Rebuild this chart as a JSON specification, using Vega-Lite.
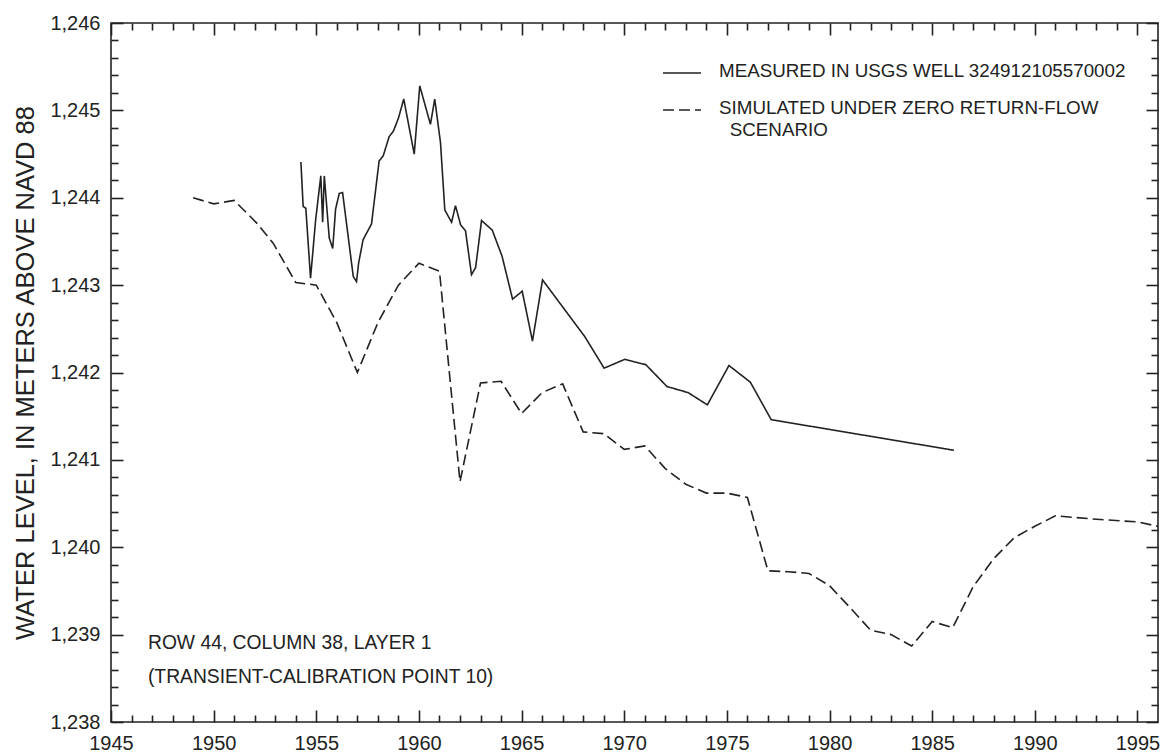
{
  "$schema": "https://vega.github.io/schema/vega-lite/v6.json",
  "width": 1047,
  "height": 699,
  "autosize": {"type": "none"},
  "padding": {"left": 111, "top": 23, "right": 8, "bottom": 30},
  "background": "white",
  "config": {
    "view": {"stroke": "#222", "strokeWidth": 1.6},
    "font": "Liberation Sans",
    "axis": {
      "grid": false,
      "domain": false,
      "labelFont": "Liberation Sans",
      "labelFontSize": 20,
      "labelColor": "#222",
      "tickColor": "#222",
      "tickWidth": 1.6,
      "titleFont": "Liberation Sans",
      "titleFontSize": 25.5,
      "titleFontWeight": "normal",
      "titleColor": "#222"
    }
  },
  "data": {
    "values": [
      {"series": "MEASURED IN USGS WELL 324912105570002", "year": 1954.25, "level": 1244.41},
      {"series": "MEASURED IN USGS WELL 324912105570002", "year": 1954.36, "level": 1243.90},
      {"series": "MEASURED IN USGS WELL 324912105570002", "year": 1954.49, "level": 1243.88},
      {"series": "MEASURED IN USGS WELL 324912105570002", "year": 1954.72, "level": 1243.08},
      {"series": "MEASURED IN USGS WELL 324912105570002", "year": 1954.97, "level": 1243.75},
      {"series": "MEASURED IN USGS WELL 324912105570002", "year": 1955.22, "level": 1244.25},
      {"series": "MEASURED IN USGS WELL 324912105570002", "year": 1955.31, "level": 1243.72},
      {"series": "MEASURED IN USGS WELL 324912105570002", "year": 1955.39, "level": 1244.25},
      {"series": "MEASURED IN USGS WELL 324912105570002", "year": 1955.63, "level": 1243.54},
      {"series": "MEASURED IN USGS WELL 324912105570002", "year": 1955.80, "level": 1243.42},
      {"series": "MEASURED IN USGS WELL 324912105570002", "year": 1955.94, "level": 1243.87},
      {"series": "MEASURED IN USGS WELL 324912105570002", "year": 1956.12, "level": 1244.05},
      {"series": "MEASURED IN USGS WELL 324912105570002", "year": 1956.28, "level": 1244.06},
      {"series": "MEASURED IN USGS WELL 324912105570002", "year": 1956.80, "level": 1243.10},
      {"series": "MEASURED IN USGS WELL 324912105570002", "year": 1956.96, "level": 1243.04},
      {"series": "MEASURED IN USGS WELL 324912105570002", "year": 1957.06, "level": 1243.25},
      {"series": "MEASURED IN USGS WELL 324912105570002", "year": 1957.28, "level": 1243.52},
      {"series": "MEASURED IN USGS WELL 324912105570002", "year": 1957.69, "level": 1243.70},
      {"series": "MEASURED IN USGS WELL 324912105570002", "year": 1958.06, "level": 1244.42},
      {"series": "MEASURED IN USGS WELL 324912105570002", "year": 1958.26, "level": 1244.48},
      {"series": "MEASURED IN USGS WELL 324912105570002", "year": 1958.55, "level": 1244.70},
      {"series": "MEASURED IN USGS WELL 324912105570002", "year": 1958.75, "level": 1244.76},
      {"series": "MEASURED IN USGS WELL 324912105570002", "year": 1959.00, "level": 1244.91},
      {"series": "MEASURED IN USGS WELL 324912105570002", "year": 1959.26, "level": 1245.13},
      {"series": "MEASURED IN USGS WELL 324912105570002", "year": 1959.77, "level": 1244.50},
      {"series": "MEASURED IN USGS WELL 324912105570002", "year": 1960.04, "level": 1245.28},
      {"series": "MEASURED IN USGS WELL 324912105570002", "year": 1960.56, "level": 1244.84},
      {"series": "MEASURED IN USGS WELL 324912105570002", "year": 1960.77, "level": 1245.13},
      {"series": "MEASURED IN USGS WELL 324912105570002", "year": 1961.05, "level": 1244.63},
      {"series": "MEASURED IN USGS WELL 324912105570002", "year": 1961.26, "level": 1243.86},
      {"series": "MEASURED IN USGS WELL 324912105570002", "year": 1961.59, "level": 1243.72},
      {"series": "MEASURED IN USGS WELL 324912105570002", "year": 1961.78, "level": 1243.91},
      {"series": "MEASURED IN USGS WELL 324912105570002", "year": 1962.03, "level": 1243.69},
      {"series": "MEASURED IN USGS WELL 324912105570002", "year": 1962.27, "level": 1243.62},
      {"series": "MEASURED IN USGS WELL 324912105570002", "year": 1962.56, "level": 1243.12},
      {"series": "MEASURED IN USGS WELL 324912105570002", "year": 1962.76, "level": 1243.20},
      {"series": "MEASURED IN USGS WELL 324912105570002", "year": 1963.05, "level": 1243.74},
      {"series": "MEASURED IN USGS WELL 324912105570002", "year": 1963.57, "level": 1243.63},
      {"series": "MEASURED IN USGS WELL 324912105570002", "year": 1964.05, "level": 1243.33},
      {"series": "MEASURED IN USGS WELL 324912105570002", "year": 1964.56, "level": 1242.84},
      {"series": "MEASURED IN USGS WELL 324912105570002", "year": 1965.03, "level": 1242.93},
      {"series": "MEASURED IN USGS WELL 324912105570002", "year": 1965.53, "level": 1242.36},
      {"series": "MEASURED IN USGS WELL 324912105570002", "year": 1966.02, "level": 1243.06},
      {"series": "MEASURED IN USGS WELL 324912105570002", "year": 1968.08, "level": 1242.41},
      {"series": "MEASURED IN USGS WELL 324912105570002", "year": 1969.02, "level": 1242.05},
      {"series": "MEASURED IN USGS WELL 324912105570002", "year": 1970.02, "level": 1242.15},
      {"series": "MEASURED IN USGS WELL 324912105570002", "year": 1971.05, "level": 1242.09},
      {"series": "MEASURED IN USGS WELL 324912105570002", "year": 1972.08, "level": 1241.84},
      {"series": "MEASURED IN USGS WELL 324912105570002", "year": 1973.11, "level": 1241.77},
      {"series": "MEASURED IN USGS WELL 324912105570002", "year": 1974.05, "level": 1241.63},
      {"series": "MEASURED IN USGS WELL 324912105570002", "year": 1975.10, "level": 1242.08},
      {"series": "MEASURED IN USGS WELL 324912105570002", "year": 1976.14, "level": 1241.89},
      {"series": "MEASURED IN USGS WELL 324912105570002", "year": 1977.16, "level": 1241.46},
      {"series": "MEASURED IN USGS WELL 324912105570002", "year": 1986.06, "level": 1241.11},
      {"series": "SIMULATED UNDER ZERO RETURN-FLOW SCENARIO", "year": 1949.0, "level": 1244.00},
      {"series": "SIMULATED UNDER ZERO RETURN-FLOW SCENARIO", "year": 1950.0, "level": 1243.93},
      {"series": "SIMULATED UNDER ZERO RETURN-FLOW SCENARIO", "year": 1951.0, "level": 1243.97},
      {"series": "SIMULATED UNDER ZERO RETURN-FLOW SCENARIO", "year": 1952.1, "level": 1243.71},
      {"series": "SIMULATED UNDER ZERO RETURN-FLOW SCENARIO", "year": 1952.9, "level": 1243.48},
      {"series": "SIMULATED UNDER ZERO RETURN-FLOW SCENARIO", "year": 1954.0, "level": 1243.03},
      {"series": "SIMULATED UNDER ZERO RETURN-FLOW SCENARIO", "year": 1955.0, "level": 1243.00},
      {"series": "SIMULATED UNDER ZERO RETURN-FLOW SCENARIO", "year": 1956.0, "level": 1242.57},
      {"series": "SIMULATED UNDER ZERO RETURN-FLOW SCENARIO", "year": 1957.0, "level": 1242.00},
      {"series": "SIMULATED UNDER ZERO RETURN-FLOW SCENARIO", "year": 1958.0, "level": 1242.57},
      {"series": "SIMULATED UNDER ZERO RETURN-FLOW SCENARIO", "year": 1959.0, "level": 1243.00},
      {"series": "SIMULATED UNDER ZERO RETURN-FLOW SCENARIO", "year": 1960.0, "level": 1243.25},
      {"series": "SIMULATED UNDER ZERO RETURN-FLOW SCENARIO", "year": 1961.0, "level": 1243.16},
      {"series": "SIMULATED UNDER ZERO RETURN-FLOW SCENARIO", "year": 1962.0, "level": 1240.75},
      {"series": "SIMULATED UNDER ZERO RETURN-FLOW SCENARIO", "year": 1963.0, "level": 1241.88},
      {"series": "SIMULATED UNDER ZERO RETURN-FLOW SCENARIO", "year": 1964.0, "level": 1241.90},
      {"series": "SIMULATED UNDER ZERO RETURN-FLOW SCENARIO", "year": 1965.0, "level": 1241.53},
      {"series": "SIMULATED UNDER ZERO RETURN-FLOW SCENARIO", "year": 1966.0, "level": 1241.77},
      {"series": "SIMULATED UNDER ZERO RETURN-FLOW SCENARIO", "year": 1967.0, "level": 1241.87},
      {"series": "SIMULATED UNDER ZERO RETURN-FLOW SCENARIO", "year": 1968.0, "level": 1241.32},
      {"series": "SIMULATED UNDER ZERO RETURN-FLOW SCENARIO", "year": 1969.0, "level": 1241.30},
      {"series": "SIMULATED UNDER ZERO RETURN-FLOW SCENARIO", "year": 1970.0, "level": 1241.12},
      {"series": "SIMULATED UNDER ZERO RETURN-FLOW SCENARIO", "year": 1971.0, "level": 1241.16},
      {"series": "SIMULATED UNDER ZERO RETURN-FLOW SCENARIO", "year": 1972.0, "level": 1240.90},
      {"series": "SIMULATED UNDER ZERO RETURN-FLOW SCENARIO", "year": 1973.0, "level": 1240.72},
      {"series": "SIMULATED UNDER ZERO RETURN-FLOW SCENARIO", "year": 1974.0, "level": 1240.62},
      {"series": "SIMULATED UNDER ZERO RETURN-FLOW SCENARIO", "year": 1975.0, "level": 1240.62},
      {"series": "SIMULATED UNDER ZERO RETURN-FLOW SCENARIO", "year": 1976.0, "level": 1240.57},
      {"series": "SIMULATED UNDER ZERO RETURN-FLOW SCENARIO", "year": 1977.0, "level": 1239.73},
      {"series": "SIMULATED UNDER ZERO RETURN-FLOW SCENARIO", "year": 1978.0, "level": 1239.72},
      {"series": "SIMULATED UNDER ZERO RETURN-FLOW SCENARIO", "year": 1979.0, "level": 1239.70},
      {"series": "SIMULATED UNDER ZERO RETURN-FLOW SCENARIO", "year": 1980.0, "level": 1239.56},
      {"series": "SIMULATED UNDER ZERO RETURN-FLOW SCENARIO", "year": 1981.0, "level": 1239.31},
      {"series": "SIMULATED UNDER ZERO RETURN-FLOW SCENARIO", "year": 1982.0, "level": 1239.05},
      {"series": "SIMULATED UNDER ZERO RETURN-FLOW SCENARIO", "year": 1983.0, "level": 1239.00},
      {"series": "SIMULATED UNDER ZERO RETURN-FLOW SCENARIO", "year": 1984.0, "level": 1238.87},
      {"series": "SIMULATED UNDER ZERO RETURN-FLOW SCENARIO", "year": 1985.0, "level": 1239.15},
      {"series": "SIMULATED UNDER ZERO RETURN-FLOW SCENARIO", "year": 1986.0, "level": 1239.08},
      {"series": "SIMULATED UNDER ZERO RETURN-FLOW SCENARIO", "year": 1987.0, "level": 1239.55},
      {"series": "SIMULATED UNDER ZERO RETURN-FLOW SCENARIO", "year": 1988.0, "level": 1239.87},
      {"series": "SIMULATED UNDER ZERO RETURN-FLOW SCENARIO", "year": 1989.0, "level": 1240.11},
      {"series": "SIMULATED UNDER ZERO RETURN-FLOW SCENARIO", "year": 1990.0, "level": 1240.24},
      {"series": "SIMULATED UNDER ZERO RETURN-FLOW SCENARIO", "year": 1991.0, "level": 1240.36},
      {"series": "SIMULATED UNDER ZERO RETURN-FLOW SCENARIO", "year": 1993.0, "level": 1240.32},
      {"series": "SIMULATED UNDER ZERO RETURN-FLOW SCENARIO", "year": 1995.0, "level": 1240.29},
      {"series": "SIMULATED UNDER ZERO RETURN-FLOW SCENARIO", "year": 1996.0, "level": 1240.24}
    ]
  },
  "resolve": {"axis": {"x": "independent", "y": "independent"}},
  "layer": [
    {
      "mark": {"type": "line", "color": "#222", "strokeWidth": 1.6},
      "encoding": {
        "x": {
          "field": "year", "type": "quantitative",
          "scale": {"domain": [1945, 1996], "nice": false, "zero": false},
          "axis": {"orient": "bottom", "values": [1945, 1950, 1955, 1960, 1965, 1970, 1975, 1980, 1985, 1990, 1995], "ticks": false, "labelPadding": 11, "format": "d", "title": null, "labelFlush": false, "labelOverlap": false}
        },
        "y": {
          "field": "level", "type": "quantitative",
          "scale": {"domain": [1238, 1246], "nice": false, "zero": false},
          "axis": {"orient": "left", "values": [1238, 1239, 1240, 1241, 1242, 1243, 1244, 1245, 1246], "ticks": false, "labelPadding": 11, "format": ",", "title": "WATER LEVEL, IN METERS ABOVE NAVD 88", "titlePadding": 11, "labelFlush": false, "labelOverlap": false}
        },
        "strokeDash": {
          "field": "series", "type": "nominal",
          "scale": {"domain": ["MEASURED IN USGS WELL 324912105570002", "SIMULATED UNDER ZERO RETURN-FLOW SCENARIO"], "range": [[1, 0], [11, 5]]},
          "legend": {
            "orient": "none", "legendX": 551, "legendY": 30, "title": null,
            "symbolType": "stroke", "symbolSize": 1444, "symbolStrokeWidth": 1.6, "symbolStrokeColor": "#222",
            "labelFont": "Liberation Sans", "labelFontSize": 18.8, "labelColor": "#222", "labelOffset": 17,
            "labelBaseline": "alphabetic", "rowPadding": 9, "padding": 0, "labelLimit": 700,
            "labelExpr": "indexof(datum.label, 'SIMULATED') == 0 ? 'SIMULATED UNDER ZERO RETURN-FLOW' : datum.label",
            "encode": {"labels": {"update": {"dy": {"value": 4}}}}
          }
        }
      }
    },
    {
      "mark": {"type": "point", "opacity": 0},
      "encoding": {
        "x": {"field": "year", "type": "quantitative", "axis": {"orient": "bottom", "values": [1945, 1950, 1955, 1960, 1965, 1970, 1975, 1980, 1985, 1990, 1995], "labels": false, "tickSize": -12, "title": null}},
        "y": {"field": "level", "type": "quantitative", "axis": {"orient": "right", "values": [1238, 1239, 1240, 1241, 1242, 1243, 1244, 1245, 1246], "labels": false, "tickSize": -12, "title": null}}
      }
    },
    {
      "mark": {"type": "point", "opacity": 0},
      "encoding": {
        "x": {"field": "year", "type": "quantitative", "axis": {"orient": "top", "values": [1945, 1950, 1955, 1960, 1965, 1970, 1975, 1980, 1985, 1990, 1995], "labels": false, "tickSize": -12, "title": null}},
        "y": {"field": "level", "type": "quantitative", "axis": {"orient": "left", "values": [1238, 1239, 1240, 1241, 1242, 1243, 1244, 1245, 1246], "labels": false, "tickSize": -12, "title": null}}
      }
    },
    {
      "mark": {"type": "point", "opacity": 0},
      "encoding": {
        "x": {"field": "year", "type": "quantitative", "axis": {"orient": "bottom", "values": [1946, 1947, 1948, 1949, 1951, 1952, 1953, 1954, 1956, 1957, 1958, 1959, 1961, 1962, 1963, 1964, 1966, 1967, 1968, 1969, 1971, 1972, 1973, 1974, 1976, 1977, 1978, 1979, 1981, 1982, 1983, 1984, 1986, 1987, 1988, 1989, 1991, 1992, 1993, 1994], "labels": false, "tickSize": -7, "title": null}},
        "y": {"field": "level", "type": "quantitative", "axis": {"orient": "right", "values": [1238.2, 1238.4, 1238.6, 1238.8, 1239.2, 1239.4, 1239.6, 1239.8, 1240.2, 1240.4, 1240.6, 1240.8, 1241.2, 1241.4, 1241.6, 1241.8, 1242.2, 1242.4, 1242.6, 1242.8, 1243.2, 1243.4, 1243.6, 1243.8, 1244.2, 1244.4, 1244.6, 1244.8, 1245.2, 1245.4, 1245.6, 1245.8], "labels": false, "tickSize": -7, "title": null}}
      }
    },
    {
      "mark": {"type": "point", "opacity": 0},
      "encoding": {
        "x": {"field": "year", "type": "quantitative", "axis": {"orient": "top", "values": [1946, 1947, 1948, 1949, 1951, 1952, 1953, 1954, 1956, 1957, 1958, 1959, 1961, 1962, 1963, 1964, 1966, 1967, 1968, 1969, 1971, 1972, 1973, 1974, 1976, 1977, 1978, 1979, 1981, 1982, 1983, 1984, 1986, 1987, 1988, 1989, 1991, 1992, 1993, 1994], "labels": false, "tickSize": -7, "title": null}},
        "y": {"field": "level", "type": "quantitative", "axis": {"orient": "left", "values": [1238.2, 1238.4, 1238.6, 1238.8, 1239.2, 1239.4, 1239.6, 1239.8, 1240.2, 1240.4, 1240.6, 1240.8, 1241.2, 1241.4, 1241.6, 1241.8, 1242.2, 1242.4, 1242.6, 1242.8, 1243.2, 1243.4, 1243.6, 1243.8, 1244.2, 1244.4, 1244.6, 1244.8, 1245.2, 1245.4, 1245.6, 1245.8], "labels": false, "tickSize": -7, "title": null}}
      }
    },
    {
      "data": {"values": [{"note": "location"}]},
      "mark": {"type": "text", "text": ["ROW 44, COLUMN 38, LAYER 1", "(TRANSIENT-CALIBRATION POINT 10)"], "align": "left", "baseline": "alphabetic", "lineHeight": 34, "fontSize": 19.3, "font": "Liberation Sans", "color": "#222"},
      "encoding": {
        "x": {"datum": 1946.8, "type": "quantitative", "axis": null},
        "y": {"datum": 1238.84, "type": "quantitative", "axis": null}
      }
    },
    {
      "data": {"values": [{"note": "legend continuation"}]},
      "mark": {"type": "text", "text": "SCENARIO", "align": "left", "baseline": "alphabetic", "fontSize": 18.8, "font": "Liberation Sans", "color": "#222"},
      "encoding": {
        "x": {"datum": 1975.14, "type": "quantitative", "axis": null},
        "y": {"datum": 1244.71, "type": "quantitative", "axis": null}
      }
    }
  ]
}
